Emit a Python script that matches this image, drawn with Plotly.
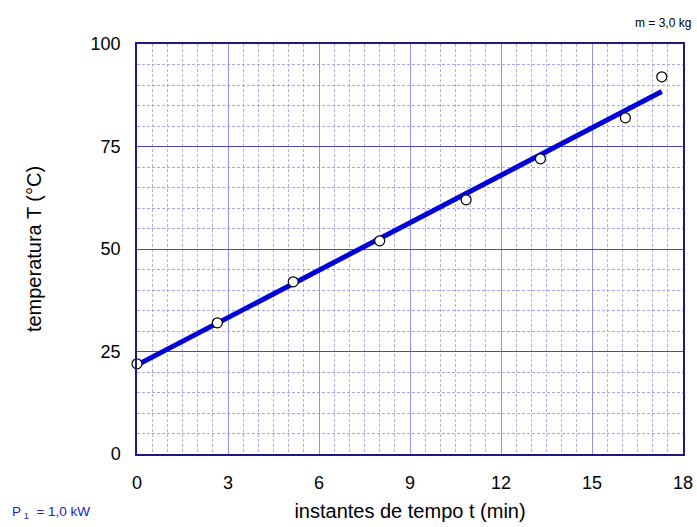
import plotly.graph_objects as go

t_min = [0, 2.65, 5.15, 8.0, 10.85, 13.3, 16.1, 17.3]
temp_C = [22, 32, 42, 52, 62, 72, 82, 92]
fit_t = [0, 17.3]
fit_T = [21.7, 88.4]
x_ticks = [0, 3, 6, 9, 12, 15, 18]
y_ticks = [0, 25, 50, 75, 100]

font = "Liberation Sans, Arial, Helvetica, sans-serif"
fig = go.Figure()
fig.add_trace(go.Scatter(x=fit_t, y=fit_T, mode="lines",
                         line=dict(color="#0000d8", width=5), showlegend=False))
fig.add_trace(go.Scatter(x=t_min, y=temp_C, mode="markers",
                         marker=dict(symbol="circle", size=10, color="white",
                                     line=dict(color="black", width=1.2)),
                         showlegend=False, cliponaxis=False))

fig.update_layout(
    width=697, height=527,
    margin=dict(l=137, r=14, t=44, b=73, autoexpand=False),
    plot_bgcolor="white", paper_bgcolor="white",
    font=dict(family=font, size=18, color="black"),
    xaxis=dict(range=[0, 18], tickvals=x_ticks, showgrid=True, automargin=False,
               gridcolor="#9090ee", gridwidth=1,
               minor=dict(dtick=0.5, showgrid=True, gridcolor="#b0b0f4",
                          griddash="3px,2px", gridwidth=1),
               showline=True, linecolor="#1a1a80", linewidth=1.5, mirror=True,
               zeroline=False, ticks="", ticklabelstandoff=12,
               title=dict(text="instantes de tempo t (min)", font=dict(size=20), standoff=12)),
    yaxis=dict(range=[0, 100], tickvals=y_ticks, showgrid=True, automargin=False,
               gridcolor="#4848c8", gridwidth=1,
               minor=dict(dtick=5, showgrid=True, gridcolor="#a4a4f0",
                          griddash="3px,2px", gridwidth=1),
               showline=True, linecolor="#1a1a80", linewidth=1.5, mirror=True,
               zeroline=False, ticks="", ticklabelstandoff=11,
               title=dict(text="temperatura T (°C)", font=dict(size=20), standoff=44)),
    annotations=[
        dict(text="m = 3,0 kg", xref="paper", yref="paper", x=1.0, y=1.0,
             xanchor="right", yanchor="bottom", yshift=12, xshift=10, showarrow=False,
             font=dict(size=12, color="black")),
        dict(text="P<sub> 1</sub>  = 1,0 kW", xref="paper", yref="paper", x=-0.2326, y=-0.1415,
             xanchor="left", yanchor="middle", showarrow=False,
             font=dict(size=13.5, color="#2222cc")),
    ],
)
fig.write_html("out.html", config={"displayModeBar": False},
               post_script="document.body.style.margin='0';document.body.style.overflow='hidden';")
